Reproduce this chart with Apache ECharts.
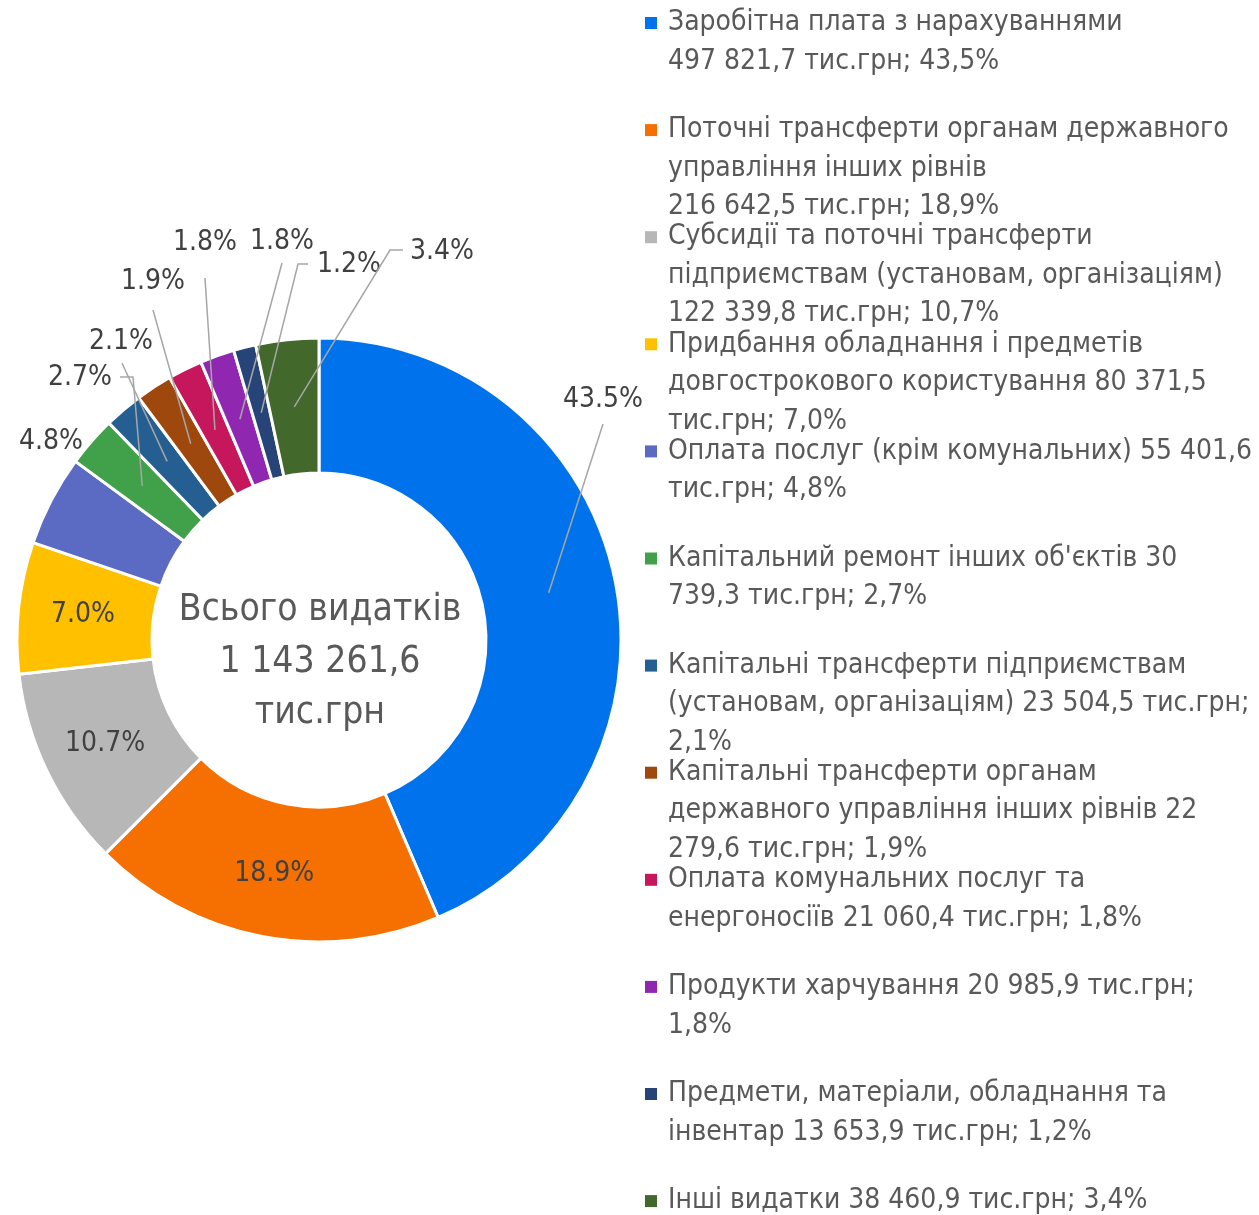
<!DOCTYPE html>
<html>
<head>
<meta charset="utf-8">
<script src="https://cdn.jsdelivr.net/npm/echarts@6/dist/echarts.min.js"></script>
<style>
html, body { margin: 0; padding: 0; background: #fff; }
#chart { width: 1259px; height: 1215px; }
</style>
</head>
<body>
<div id="chart"></div>
<script>
// data (тис.грн)
var categories = [
    'Заробітна плата з нарахуваннями',
    'Поточні трансферти органам державного управління інших рівнів',
    'Субсидії та поточні трансферти підприємствам (установам, організаціям)',
    'Придбання обладнання і предметів довгострокового користування',
    'Оплата послуг (крім комунальних)',
    "Капітальний ремонт інших об'єктів",
    'Капітальні трансферти підприємствам (установам, організаціям)',
    'Капітальні трансферти органам державного управління інших рівнів',
    'Оплата комунальних послуг та енергоносіїв',
    'Продукти харчування',
    'Предмети, матеріали, обладнання та інвентар',
    'Інші видатки'
];
var values = [497821.7, 216642.5, 122339.8, 80371.5, 55401.6, 30739.3, 23504.5, 22279.6, 21060.4, 20985.9, 13653.9, 38460.9];
var colors = ['#0073EC', '#F57000', '#B7B7B7', '#FFC000', '#5B6AC2', '#41A04A', '#255F91', '#9E480E', '#C7175C', '#9027B0', '#264478', '#43682B'];

// legend text as shown (wrapped lines)
var legendLines = [
    ['Заробітна плата з нарахуваннями', '497 821,7 тис.грн; 43,5%'],
    ['Поточні трансферти органам державного', 'управління інших рівнів', '216 642,5 тис.грн; 18,9%'],
    ['Субсидії та поточні трансферти', 'підприємствам (установам, організаціям)', '122 339,8 тис.грн; 10,7%'],
    ['Придбання обладнання і предметів', 'довгострокового користування 80 371,5', 'тис.грн; 7,0%'],
    ['Оплата послуг (крім комунальних) 55 401,6', 'тис.грн; 4,8%'],
    ["Капітальний ремонт інших об'єктів 30", '739,3 тис.грн; 2,7%'],
    ['Капітальні трансферти підприємствам', '(установам, організаціям) 23 504,5 тис.грн;', '2,1%'],
    ['Капітальні трансферти органам', 'державного управління інших рівнів 22', '279,6 тис.грн; 1,9%'],
    ['Оплата комунальних послуг та', 'енергоносіїв 21 060,4 тис.грн; 1,8%'],
    ['Продукти харчування 20 985,9 тис.грн;', '1,8%'],
    ['Предмети, матеріали, обладнання та', 'інвентар 13 653,9 тис.грн; 1,2%'],
    ['Інші видатки 38 460,9 тис.грн; 3,4%']
];
var centerLines = ['Всього видатків', '1 143 261,6', 'тис.грн'];

// where the outside labels sit (null = inside the slice)
var labelPos = [[603, 400], null, null, null, [51, 442], [80, 378], [121, 342], [153, 282], [205, 243], [282, 242], [349, 265], [442, 252]];
var lineEnds = [[[603, 424], [603, 424]], null, null, null, null, [[133, 377], [120, 377]], [[122, 363], [122, 363]],
    [[153, 310], [153, 310]], [[205, 278], [205, 278]], [[282, 263], [282, 263]], [[298, 264], [308, 264]], [[390, 250], [403, 250]]];

var FONT = '"Liberation Sans Narrow", "DejaVu Sans Condensed", "Liberation Sans", sans-serif';
var cx = 319, cy = 640, rIn = 167, rOut = 302;

var total = values.reduce(function (a, b) { return a + b; }, 0);

// mid point of each slice (ring middle), leader lines start there
var midPoints = [];
var acc = 0;
values.forEach(function (v) {
    var a = (acc + v / 2) / total * 2 * Math.PI;
    var r = (rIn + rOut) / 2;
    midPoints.push([cx + r * Math.sin(a), cy - r * Math.cos(a)]);
    acc += v;
});

var pieData = categories.map(function (name, i) {
    var item = { name: name, value: values[i], itemStyle: { color: colors[i] } };
    if (!labelPos[i]) item.label = { position: 'inside' };
    return item;
});

var legends = categories.map(function (name, i) {
    var lines = legendLines[i];
    var txt = '{m|}{s|}' + lines[0];
    for (var k = 1; k < lines.length; k++) txt += '\n{g|}' + lines[k];
    return {
        left: 640,
        top: 23 + i * 107.1 - 19.25,
        padding: 0,
        icon: 'none',
        itemWidth: 0,
        itemHeight: 14,
        selectedMode: false,
        data: [name],
        formatter: function () { return txt; },
        textStyle: {
            fontFamily: FONT,
            fontSize: 28,
            lineHeight: 38.5,
            color: '#595959',
            rich: {
                m: { width: 12, height: 12, backgroundColor: colors[i] },
                s: { width: 11 },
                g: { width: 23 }
            }
        }
    };
});

// leader lines drawn over the ring
var leaders = [];
lineEnds.forEach(function (e, i) {
    if (!e) return;
    leaders.push({
        type: 'polyline',
        z: 100,
        silent: true,
        shape: { points: [midPoints[i], e[0], e[1]] },
        style: { stroke: '#A6A6A6', lineWidth: 1.5, fill: null }
    });
});

var dom = document.getElementById('chart');
var myChart = echarts.init(dom);
var option = {
    animation: false,
    legend: legends,
    graphic: [{
        type: 'text',
        x: cx + 1,
        y: 662,
        style: {
            text: centerLines.join('\n'),
            align: 'center',
            verticalAlign: 'middle',
            fontFamily: FONT,
            fontSize: 37,
            lineHeight: 51.5,
            fill: '#595959'
        }
    }].concat(leaders),
    series: [{
        type: 'pie',
        center: [cx, cy],
        radius: [rIn, rOut],
        startAngle: 90,
        clockwise: true,
        avoidLabelOverlap: false,
        itemStyle: { borderColor: '#fff', borderWidth: 3 },
        label: {
            show: true,
            fontFamily: FONT,
            fontSize: 28,
            color: '#404040',
            formatter: function (p) { return (p.value / total * 100).toFixed(1) + '%'; }
        },
        labelLine: { show: false },
        labelLayout: function (params) {
            var i = params.dataIndex;
            if (!labelPos[i]) return {};
            return { x: labelPos[i][0], y: labelPos[i][1], align: 'center', verticalAlign: 'middle' };
        },
        data: pieData
    }]
};
myChart.setOption(option);
</script>
</body>
</html>
